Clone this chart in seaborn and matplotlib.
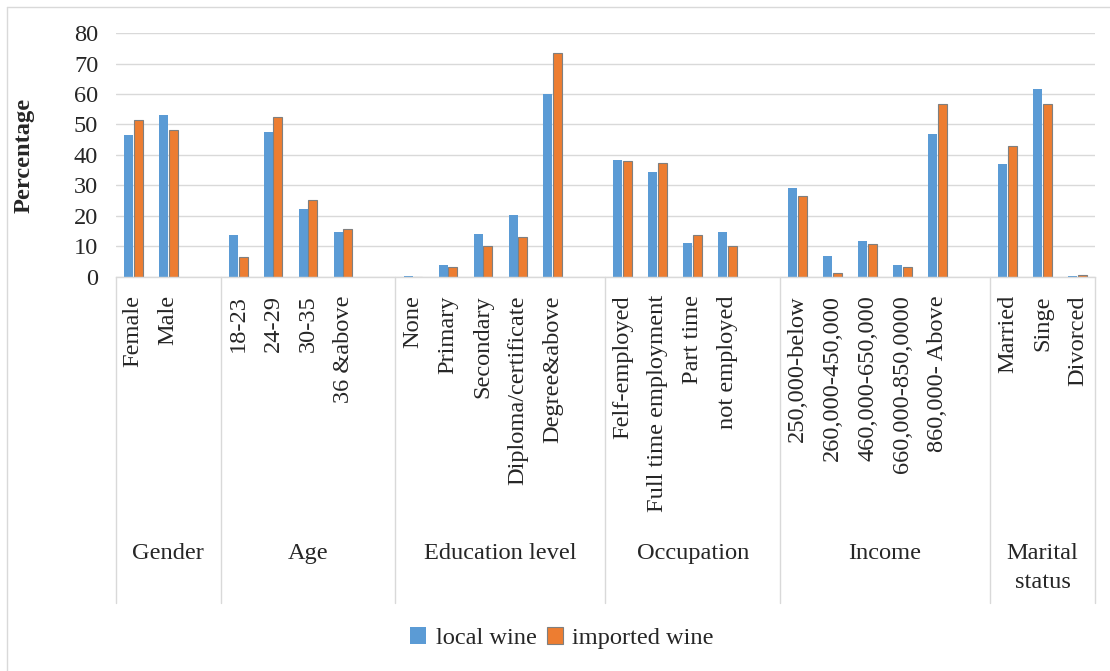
import matplotlib
matplotlib.use("Agg")
import matplotlib.pyplot as plt
import matplotlib.transforms as mtransforms
from matplotlib.patches import Patch
from matplotlib.lines import Line2D
import numpy as np
import pandas as pd
import seaborn as sns

# ---- data -------------------------------------------------------------
groups = ["Gender", "Age", "Education level", "Occupation", "Income", "Marital\nstatus"]

categories = [
    ["Female", "Male"],
    ["18-23", "24-29", "30-35", "36 &above"],
    ["None", "Primary", "Secondary", "Diploma/certificate", "Degree&above"],
    ["Felf-employed", "Full time employment", "Part time", "not employed"],
    ["250,000-below", "260,000-450,000", "460,000-650,000", "660,000-850,0000", "860,000- Above"],
    ["Married", "Singe", "Divorced"],
]

local_wine = [
    [46.6, 53.1],
    [13.7, 47.5, 22.4, 14.9],
    [0.3, 3.8, 14.2, 20.2, 60.0],
    [38.4, 34.4, 11.2, 14.8],
    [29.3, 6.8, 11.8, 3.8, 46.8],
    [36.9, 61.7, 0.2],
]

imported_wine = [
    [51.6, 48.2],
    [6.6, 52.5, 25.1, 15.8],
    [0.0, 3.2, 10.0, 13.2, 73.3],
    [38.0, 37.4, 13.9, 10.0],
    [26.6, 1.4, 10.8, 3.2, 56.6],
    [43.0, 56.8, 0.7],
]

series_names = ["local wine", "imported wine"]
yticks = [0, 10, 20, 30, 40, 50, 60, 70, 80]

# ---- layout of category slots (one empty slot after each group but the last)
positions, labels, bounds = [], [], [-0.5]
slot = 0
for gi, cats in enumerate(categories):
    for c in cats:
        positions.append(slot)
        labels.append(c)
        slot += 1
    if gi < len(categories) - 1:
        slot += 1
    bounds.append(slot - 0.5)
n_slots = slot

rows = []
for i, (loc, imp) in enumerate(zip(sum(local_wine, []), sum(imported_wine, []))):
    rows.append({"pos": positions[i], "value": loc, "series": series_names[0]})
    rows.append({"pos": positions[i], "value": imp, "series": series_names[1]})
df = pd.DataFrame(rows)

# ---- style ------------------------------------------------------------
sns.set_style("white")
plt.rcParams["font.family"] = ["Liberation Serif", "DejaVu Serif"]
FS = 17.6
GRID = "#d9d9d9"
BLUE = "#5b9bd5"
ORANGE = "#ed7d31"

W, H = 1110, 671
fig = plt.figure(figsize=(W / 100, H / 100), dpi=100)
ax_left, ax_right, ax_top, ax_bottom = 115.7, 1095, 33, 277
ax = fig.add_axes([ax_left / W, 1 - ax_bottom / H,
                   (ax_right - ax_left) / W, (ax_bottom - ax_top) / H])

sns.barplot(data=df, x="pos", y="value", hue="series", hue_order=series_names,
            palette=[BLUE, ORANGE], native_scale=True, width=0.56, gap=0.08,
            saturation=1, linewidth=0, legend=False, ax=ax)

for bar in ax.containers[1]:
    bar.set_edgecolor("#7f7f7f")
    bar.set_linewidth(0.8)

ax.set_xlim(-0.5, n_slots - 0.5)
ax.set_ylim(0, 80)
ax.set_yticks(yticks)
ax.set_yticklabels([str(v) for v in yticks], fontsize=FS)
ax.yaxis.grid(True, color=GRID, linewidth=1)
ax.set_axisbelow(True)
ax.tick_params(axis="y", length=0, pad=12.5)
ax.set_xticks(positions)
ax.set_xticklabels(labels, rotation=90, fontsize=FS, va="top", ha="center")
ax.tick_params(axis="x", length=0, pad=13)
ax.set_xlabel("")
ax.set_ylabel("Percentage", fontsize=FS, fontweight="bold")
ax.yaxis.set_label_coords(-0.0824, 0.5)

for side in ["left", "right", "top"]:
    ax.spines[side].set_visible(False)
ax.spines["bottom"].set_color(GRID)
ax.spines["bottom"].set_linewidth(1)

# ---- group separators and group names below the axis -----------------
trans = mtransforms.blended_transform_factory(ax.transData, fig.transFigure)
y_axis = 1 - ax_bottom / H
y_end = 1 - 603 / H
for b in bounds:
    ax.add_line(Line2D([b, b], [y_axis, y_end], transform=trans, color=GRID,
                       linewidth=1, clip_on=False))
for gi, g in enumerate(groups):
    xc = (bounds[gi] + bounds[gi + 1]) / 2
    ax.text(xc, 1 - 543 / H, g, transform=trans, ha="center", va="top",
            fontsize=FS, linespacing=1.5)

# ---- legend -----------------------------------------------------------
handles = [Patch(facecolor=BLUE, edgecolor="none"),
           Patch(facecolor=ORANGE, edgecolor="#7f7f7f", linewidth=0.8)]
fig.legend(handles, series_names, loc="center", bbox_to_anchor=(562 / W, 1 - 638 / H),
           ncol=2, frameon=False, fontsize=FS, handlelength=0.66, handleheight=0.66,
           handletextpad=0.38, columnspacing=0.42)

# ---- chart border -----------------------------------------------------
fig.add_artist(Line2D([6.5 / W, 6.5 / W], [1 - 6.5 / H, 0], transform=fig.transFigure,
                      color=GRID, linewidth=1))
fig.add_artist(Line2D([6.5 / W, 1], [1 - 6.5 / H, 1 - 6.5 / H], transform=fig.transFigure,
                      color=GRID, linewidth=1))

fig.savefig("out.png", dpi=100, facecolor="white")
